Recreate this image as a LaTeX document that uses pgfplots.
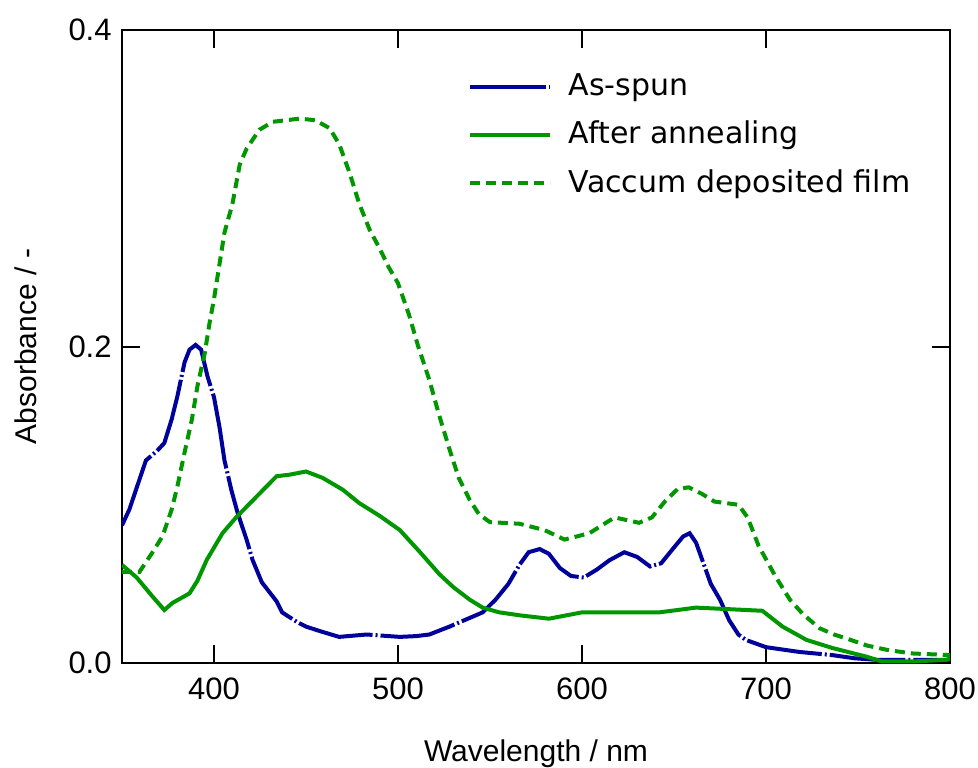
\documentclass[border=0pt]{standalone}
\usepackage{fontspec}
\setmainfont{Liberation Sans}
\newfontfamily\legfont{DejaVu Sans}
\usepackage{pgfplots}
\pgfplotsset{compat=1.18}
\definecolor{cblue}{RGB}{0,0,155}
\definecolor{cgreen}{RGB}{0,150,0}
\begin{document}
\fontsize{15bp}{18bp}\selectfont
\begin{tikzpicture}
\begin{axis}[
  width=414bp, height=316.5bp, scale only axis,
  xmin=350, xmax=800, ymin=0, ymax=0.4,
  xtick={400,500,600,700,800},
  ytick={0,0.2,0.4},
  tick align=inside, xtick pos=both, ytick pos=both,
  major tick length=9bp,
  every tick/.style={black, line width=1bp},
  axis line style={line width=1bp},
  /pgf/number format/assume math mode=true,
  yticklabel style={/pgf/number format/fixed, /pgf/number format/precision=1, /pgf/number format/fixed zerofill},
  xticklabel style={/pgf/number format/1000 sep={}, yshift=-2bp},
  tick label style={font=\fontsize{15.5bp}{18bp}\selectfont},
  xlabel={Wavelength / nm}, ylabel={Absorbance / -},
  label style={font=\fontsize{16bp}{19bp}\selectfont},
  every axis x label/.style={at={(axis description cs:0.5,0)}, yshift=-49bp, anchor=base},
  every axis y label/.style={at={(axis description cs:0,0.5)}, xshift=-48bp, rotate=90, anchor=center},
  legend style={draw=none, fill=none, at={(0.41,0.944)}, anchor=north west, font=\legfont\fontsize{15bp}{18bp}\selectfont, row sep=6.5bp},
  legend cell align=left,
  legend image code/.code={\draw[#1] (0bp,0bp) -- (40bp,0bp); \path (46.5bp,0bp);},
]
\addplot[cblue, line width=2bp, dash pattern=on 38bp off 1.5bp on 1bp off 1.5bp] coordinates {
(350,0.087)(354,0.097)(359.5,0.116)(363,0.128)(369,0.134)(373,0.139)(377,0.154)(380,0.168)(384,0.190)(386.7,0.198)(390,0.201)(393,0.198)(396.5,0.181)(400,0.168)(403,0.149)(405.7,0.128)(409.5,0.109)(412.8,0.095)(417.7,0.078)(421,0.065)(426,0.051)(434,0.039)(437,0.032)(445,0.026)(450,0.023)(458,0.020)(468,0.0165)(483,0.018)(501,0.0165)(510,0.017)(517,0.018)(528,0.023)(538,0.028)(546,0.032)(553,0.040)(560,0.050)(566,0.062)(571,0.070)(577,0.072)(582,0.069)(588,0.060)(594,0.055)(601,0.054)(608,0.059)(615,0.065)(623,0.070)(630,0.067)(637,0.061)(643,0.063)(650,0.073)(655,0.080)(658.5,0.082)(662,0.076)(666,0.063)(670,0.050)(675,0.040)(680,0.027)(685,0.018)(689,0.0146)(700,0.010)(718,0.007)(736,0.005)(748,0.003)(760,0.002)(780,0.002)(800,0.002)
};
\addlegendentry{As-spun}
\addplot[cgreen, line width=2bp] coordinates {
(350,0.062)(358,0.054)(366.6,0.042)(373,0.0335)(377.5,0.038)(386.7,0.044)(391,0.052)(396,0.065)(404.6,0.082)(412,0.092)(423,0.105)(434,0.118)(441,0.119)(450,0.121)(459,0.117)(470,0.1095)(479,0.101)(490,0.093)(501,0.084)(512,0.070)(522.6,0.056)(530,0.048)(539,0.040)(546,0.035)(555,0.032)(567,0.030)(582,0.028)(600,0.032)(624,0.032)(642,0.032)(662,0.035)(680,0.034)(698,0.033)(709,0.023)(722,0.0146)(736,0.0095)(754.6,0.004)(763,0.001)(780,0.001)(798,0.002)(800,0.003)
};
\addlegendentry{After annealing}
\addplot[cgreen, line width=2bp, dash pattern=on 5bp off 3bp] coordinates {
(350,0.0576)(359.5,0.0576)(366.6,0.070)(372,0.080)(377,0.097)(380,0.111)(384,0.133)(388,0.154)(391,0.175)(395,0.196)(397.6,0.215)(400,0.230)(405.7,0.272)(410,0.290)(414,0.315)(417.7,0.325)(424.7,0.337)(432,0.342)(446.5,0.344)(455,0.343)(462.8,0.338)(468,0.328)(473.6,0.310)(479,0.290)(484.5,0.274)(490,0.262)(495,0.250)(500,0.240)(506,0.220)(511,0.200)(517,0.179)(522,0.158)(528,0.135)(533,0.117)(539,0.103)(544,0.094)(550,0.089)(566,0.088)(579.6,0.084)(590.5,0.078)(604,0.082)(617.7,0.092)(631,0.0886)(638,0.092)(645,0.102)(652,0.110)(658,0.111)(665,0.107)(672,0.102)(685,0.100)(690,0.092)(696,0.074)(705,0.055)(713,0.040)(720,0.031)(729,0.022)(737,0.018)(746,0.0146)(755,0.011)(767,0.008)(780,0.006)(800,0.005)
};
\addlegendentry{Vaccum deposited film}
\coordinate (bl) at (rel axis cs:0,0);
\coordinate (tr) at (rel axis cs:1,1);
\end{axis}
\pgfresetboundingbox
\path ([shift={(-61bp,-52.5bp)}]bl) rectangle ([shift={(14bp,15bp)}]tr);
\end{tikzpicture}
\end{document}
